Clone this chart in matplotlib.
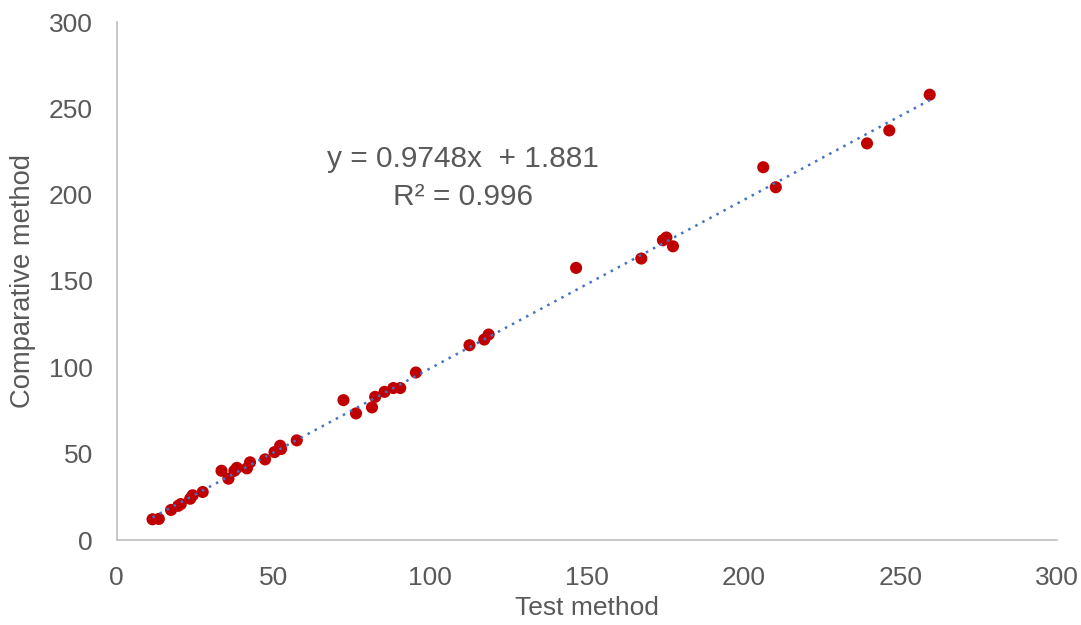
import matplotlib
matplotlib.use("Agg")
import matplotlib.pyplot as plt
import numpy as np

plt.rcParams['font.family'] = ['Liberation Sans', 'DejaVu Sans']

test_method = [11.5, 13.5, 17.4, 19.7, 20.5, 23.5, 24.3, 27.5, 33.5, 35.7,
               37.6, 38.4, 41.6, 42.6, 47.4, 50.4, 52.2, 52.5, 57.5, 72.4,
               76.4, 81.5, 82.5, 85.5, 88.3, 90.5, 95.5, 112.6, 117.3, 118.7,
               146.6, 167.4, 174.3, 175.4, 177.5, 206.3, 210.3, 239.4, 246.5, 259.4]
comparative_method = [12.0, 12.2, 17.4, 19.8, 20.8, 23.9, 25.9, 27.8, 40.1, 35.5,
                      40.1, 41.8, 41.5, 45.0, 46.7, 50.9, 54.6, 52.7, 57.7, 81.0,
                      73.3, 76.8, 82.9, 85.8, 88.0, 88.0, 97.0, 112.8, 116.1, 119.0,
                      157.6, 163.0, 173.6, 175.2, 170.1, 215.9, 204.3, 229.7, 237.2, 257.9]
slope = 0.9748
intercept = 1.881
r_squared = 0.996
ticks = [0, 50, 100, 150, 200, 250, 300]

fig = plt.figure(figsize=(10.81, 6.25), dpi=100)
ax = fig.add_axes([116.5 / 1081, 85 / 625, (1057 - 116.5) / 1081, (540 - 22) / 625])

x = np.array(test_method)
xl = np.array([x.min(), x.max()])
ax.plot(xl, slope * xl + intercept, color='#4472C4', linestyle=(0, (1, 2.2)),
        linewidth=1.8, zorder=3)
ax.scatter(test_method, comparative_method, s=76, color='#C00000', zorder=2,
           edgecolors='none')

ax.set_xlim(0, 300)
ax.set_ylim(0, 300)
ax.set_xticks(ticks)
ax.set_yticks(ticks)
ax.tick_params(length=0, labelsize=19, colors='#595959')
ax.tick_params(axis='x', pad=19)
ax.tick_params(axis='y', pad=17)
for s in ['top', 'right']:
    ax.spines[s].set_visible(False)
for s in ['left', 'bottom']:
    ax.spines[s].set_color('#BFBFBF')
    ax.spines[s].set_linewidth(1.2)

ax.set_xlabel('Test method', fontsize=19, color='#595959', labelpad=4)
ax.set_ylabel('Comparative method', fontsize=19.7, color='#595959', labelpad=9)

ax.text(110.5, 220.5, f'y = {slope}x  + {intercept}', fontsize=21.5, color='#595959',
        ha='center', va='center')
ax.text(110.5, 198.5, f'R² = {r_squared}', fontsize=21.5, color='#595959',
        ha='center', va='center')

fig.savefig('out.png', dpi=100)
